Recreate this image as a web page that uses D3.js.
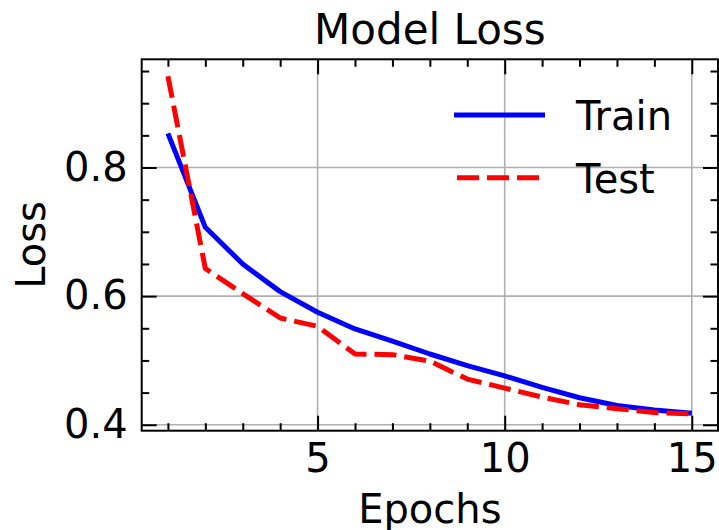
<!DOCTYPE html>
<html>
<head>
<meta charset="utf-8">
<script src="https://cdn.jsdelivr.net/npm/d3@7"></script>
<style>
  body { margin: 0; background: #fff; }
  text { font-family: "DejaVu Sans", sans-serif; fill: #000; }
</style>
</head>
<body>
<svg id="chart" width="719" height="530"></svg>
<script>
// values
const epochs = [1, 2, 3, 4, 5, 6, 7, 8, 9, 10, 11, 12, 13, 14, 15];
const trainLoss = [0.853, 0.707, 0.650, 0.607, 0.575, 0.549, 0.530, 0.510, 0.492, 0.476, 0.458, 0.442, 0.430, 0.423, 0.418];
const testLoss  = [0.942, 0.643, 0.604, 0.566, 0.553, 0.510, 0.509, 0.499, 0.471, 0.457, 0.443, 0.431, 0.425, 0.419, 0.417];
const xTicks = [5, 10, 15];
const yTicks = [0.4, 0.6, 0.8];
const seriesNames = ['Train', 'Test'];

const svg = d3.select('#chart');
const margin = {top: 59.3, right: 1, bottom: 99.3, left: 141.7};
const width = +svg.attr('width');
const height = +svg.attr('height');
const innerWidth = width - margin.left - margin.right;
const innerHeight = height - margin.top - margin.bottom;

// matplotlib-like 5% padding around the data
const all = trainLoss.concat(testLoss);
const xPad = (d3.max(epochs) - d3.min(epochs)) * 0.05;
const yPad = (d3.max(all) - d3.min(all)) * 0.05;

const xScale = d3.scaleLinear()
  .domain([d3.min(epochs) - xPad, d3.max(epochs) + xPad])
  .range([0, innerWidth]);
const yScale = d3.scaleLinear()
  .domain([d3.min(all) - yPad, d3.max(all) + yPad])
  .range([innerHeight, 0]);

const g = svg.append('g')
  .attr('transform', `translate(${margin.left},${margin.top})`);

// grid
g.append('g').selectAll('line').data(xTicks).join('line')
  .attr('x1', d => xScale(d)).attr('x2', d => xScale(d))
  .attr('y1', 0).attr('y2', innerHeight)
  .attr('stroke', '#b0b0b0').attr('stroke-width', 1.6);
g.append('g').selectAll('line').data(yTicks).join('line')
  .attr('y1', d => yScale(d)).attr('y2', d => yScale(d))
  .attr('x1', 0).attr('x2', innerWidth)
  .attr('stroke', '#b0b0b0').attr('stroke-width', 1.6);

// lines
const line = vals => d3.line()
  .x((d, i) => xScale(epochs[i]))
  .y(d => yScale(d))(vals);

g.append('path')
  .attr('d', line(trainLoss))
  .attr('fill', 'none').attr('stroke', '#0000ff')
  .attr('stroke-width', 5).attr('stroke-linejoin', 'round');

g.append('path')
  .attr('d', line(testLoss))
  .attr('fill', 'none').attr('stroke', '#ff0000')
  .attr('stroke-width', 5).attr('stroke-dasharray', '22,8')
  .attr('stroke-linejoin', 'round');

// axes: inward ticks on all four sides
const xMinor = d3.range(1, 16).filter(d => !xTicks.includes(d));
const yMinor = d3.range(0.4, 0.96, 0.05).map(d => +d.toFixed(2)).filter(d => !yTicks.includes(d));

function styleAxis(sel) {
  sel.select('.domain').remove();
  sel.selectAll('.tick line').attr('stroke', '#000').attr('stroke-width', 2);
  sel.selectAll('.tick text').filter(function () { return !this.textContent; }).remove();
  sel.selectAll('.tick text').style('font-size', '40px').attr('fill', '#000');
}

const xMajor = g.append('g').attr('transform', `translate(0,${innerHeight})`)
  .call(d3.axisBottom(xScale).tickValues(xTicks).tickSize(-15).tickPadding(13).tickFormat(d3.format('d')));
styleAxis(xMajor);
const xMin = g.append('g').attr('transform', `translate(0,${innerHeight})`)
  .call(d3.axisBottom(xScale).tickValues(xMinor).tickSize(-7.5).tickFormat(''));
styleAxis(xMin);
const xTopMajor = g.append('g')
  .call(d3.axisTop(xScale).tickValues(xTicks).tickSize(-15).tickFormat(''));
styleAxis(xTopMajor);
const xTopMin = g.append('g')
  .call(d3.axisTop(xScale).tickValues(xMinor).tickSize(-7.5).tickFormat(''));
styleAxis(xTopMin);

const yMajor = g.append('g')
  .call(d3.axisLeft(yScale).tickValues(yTicks).tickSize(-15).tickPadding(14).tickFormat(d3.format('.1f')));
styleAxis(yMajor);
const yMin = g.append('g')
  .call(d3.axisLeft(yScale).tickValues(yMinor).tickSize(-7.5).tickFormat(''));
styleAxis(yMin);
const yRMajor = g.append('g').attr('transform', `translate(${innerWidth},0)`)
  .call(d3.axisRight(yScale).tickValues(yTicks).tickSize(-15).tickFormat(''));
styleAxis(yRMajor);
const yRMin = g.append('g').attr('transform', `translate(${innerWidth},0)`)
  .call(d3.axisRight(yScale).tickValues(yMinor).tickSize(-7.5).tickFormat(''));
styleAxis(yRMin);

// frame
g.append('rect')
  .attr('width', innerWidth).attr('height', innerHeight)
  .attr('fill', 'none').attr('stroke', '#000').attr('stroke-width', 2);

// labels
g.append('text')
  .attr('x', innerWidth / 2).attr('y', -15)
  .attr('text-anchor', 'middle').style('font-size', '42px')
  .text('Model Loss');

g.append('text')
  .attr('x', innerWidth / 2).attr('y', innerHeight + 92)
  .attr('text-anchor', 'middle').style('font-size', '40px')
  .text('Epochs');

g.append('text')
  .attr('transform', `translate(${45 - margin.left},${innerHeight / 2}) rotate(-90)`)
  .attr('text-anchor', 'middle').style('font-size', '40px')
  .text('Loss');

// legend
const legend = g.append('g').attr('transform', `translate(${454 - margin.left},${115 - margin.top})`);
const legendItems = legend.selectAll('g').data(seriesNames).join('g')
  .attr('transform', (d, i) => `translate(0,${i * 62.7})`);
legendItems.append('line')
  .attr('x1', (d, i) => i ? 3 : 0).attr('x2', 91)
  .attr('stroke', (d, i) => i ? '#ff0000' : '#0000ff')
  .attr('stroke-width', 5)
  .attr('stroke-dasharray', (d, i) => i ? '22,8' : null);
legendItems.append('text')
  .attr('x', 122).attr('y', 15)
  .style('font-size', '40px')
  .text(d => d);
</script>
</body>
</html>
